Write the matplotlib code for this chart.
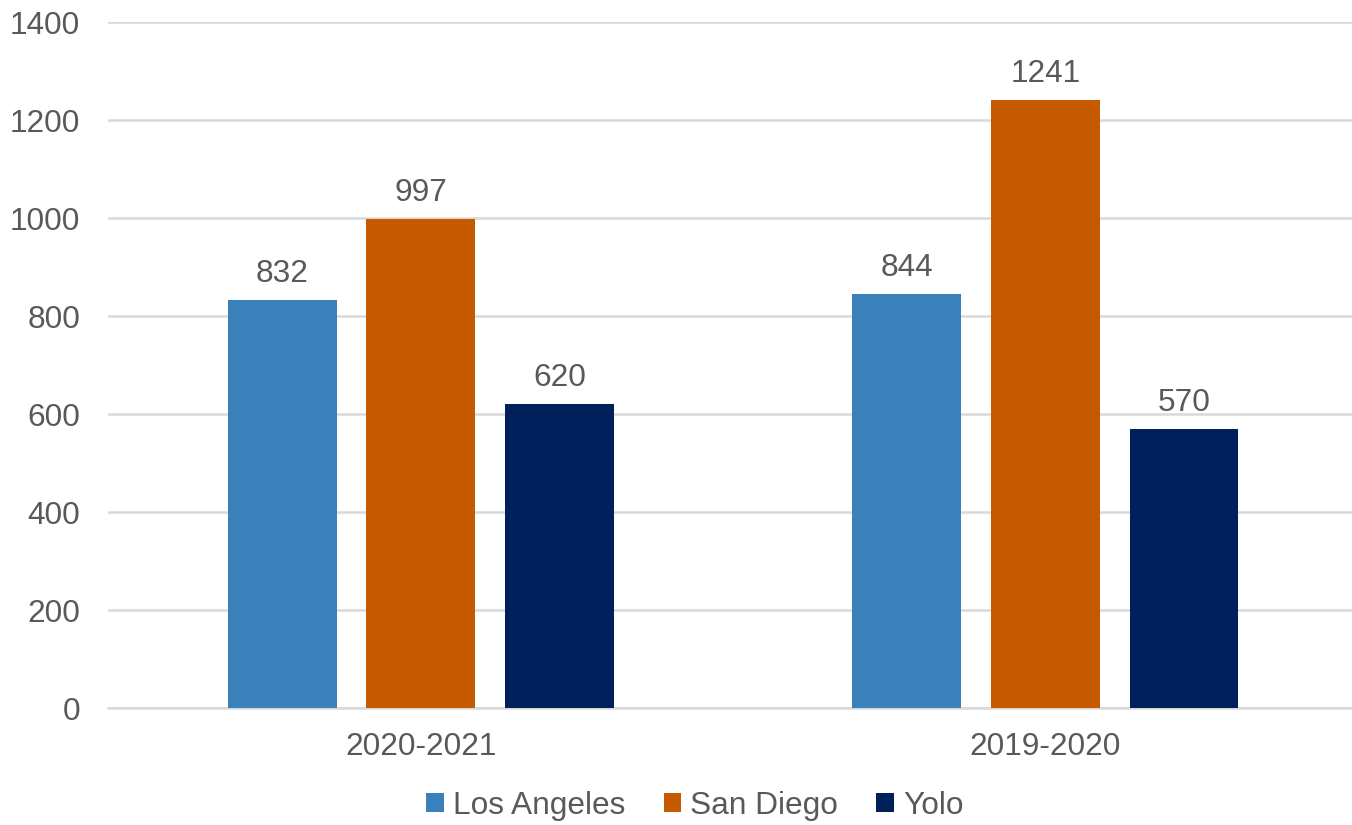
import matplotlib
matplotlib.use("Agg")
import matplotlib.pyplot as plt
import numpy as np

categories = ["2020-2021", "2019-2020"]
series_names = ["Los Angeles", "San Diego", "Yolo"]
los_angeles = [832, 844]
san_diego = [997, 1241]
yolo = [620, 570]
colors = ["#3A80BA", "#C55A00", "#00205B"]
yticks = [0, 200, 400, 600, 800, 1000, 1200, 1400]

plt.rcParams['font.family'] = ['Liberation Sans', 'DejaVu Sans']
text_color = "#595959"
fs = 22.8

fig = plt.figure(figsize=(13.52, 8.25), dpi=100)
ax = fig.add_axes([108/1352, 1-708/825, (1352-108)/1352, (708-22)/825])

x = np.arange(len(categories))
width = 0.1745
step = 0.222
values = [los_angeles, san_diego, yolo]
for i, (name, vals, c) in enumerate(zip(series_names, values, colors)):
    bars = ax.bar(x + (i-1)*step, vals, width, color=c, label=name, zorder=3)
    for b, v in zip(bars, vals):
        ax.annotate(str(v), (b.get_x()+b.get_width()/2, v), xytext=(0, 8),
                    textcoords="offset points", ha="center", va="bottom",
                    fontsize=fs, color=text_color)

ax.set_xlim(-0.501, 1.491)
ax.set_ylim(0, 1400)
ax.set_yticks(yticks)
ax.set_xticks(x)
ax.set_xticklabels(categories)
ax.yaxis.grid(True, color="#D9D9D9", linewidth=1.8, zorder=0)
ax.set_axisbelow(True)
for s in ["top", "right", "left"]:
    ax.spines[s].set_visible(False)
ax.spines["bottom"].set_color("#D9D9D9")
ax.spines["bottom"].set_linewidth(1.8)
ax.tick_params(axis="both", length=0, labelsize=fs, labelcolor=text_color)
ax.tick_params(axis="y", pad=20)
ax.tick_params(axis="x", pad=17)

leg = fig.legend(loc="center", bbox_to_anchor=(695/1352, 1-806/825), ncol=3,
                 frameon=False, fontsize=fs, handlelength=0.55, handleheight=0.55,
                 handletextpad=0.3, columnspacing=1.2, labelcolor=text_color)

fig.savefig("out.png", dpi=100)
